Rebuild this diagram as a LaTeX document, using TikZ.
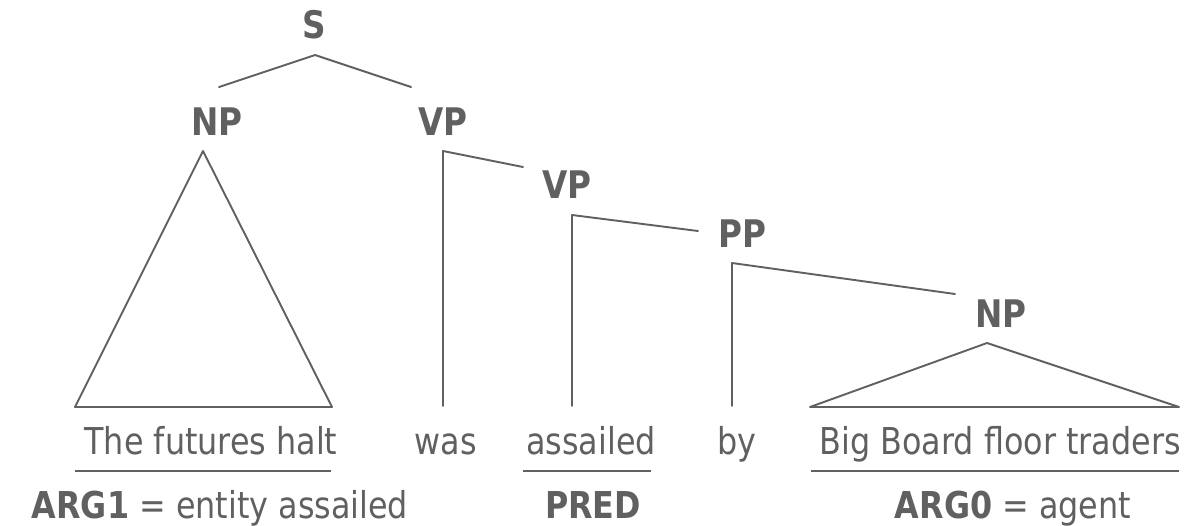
\documentclass[tikz,border=0pt]{standalone}
\usepackage{fontspec}
\setmainfont{DejaVu Sans}[FakeStretch=0.86]
\definecolor{ink}{RGB}{96,96,96}

\begin{document}
\begin{tikzpicture}[x=1pt, y=-1pt, line join=round, line cap=round, line width=1.9pt, draw=ink,
    cat/.style={font=\fontsize{38}{40}\selectfont\bfseries, text=ink, anchor=base, inner sep=0pt},
    word/.style={font=\fontsize{37}{40}\selectfont, text=ink, anchor=base, inner sep=0pt},
    rule/.style={line width=2.8pt, line cap=butt}]
    \useasboundingbox (0,0) rectangle (1188,525);
    % phrase labels
    \foreach \n/\lbl/\x/\y in {s/S/314/38, np/NP/217/135, vp/VP/443/135, vpb/VP/567/198, pp/PP/742/247, npb/NP/1001/327}
    \node[cat] (\n) at (\x,\y) {\lbl};
    % words of the sentence
    \foreach \n/\w/\x in {w1/The futures halt/211, w2/was/446, w3/assailed/591, w4/by/737, w5/Big Board floor traders/1000}
    \node[word] (\n) at (\x,454) {\w};
    % roles
    \node[word] (arg1) at (220,518) {\textbf{ARG1} = entity assailed};
    \node[word] (pred) at (593,518) {\textbf{PRED}};
    \node[word] (arg0) at (1013,518) {\textbf{ARG0} = agent};
    % branch points
    \path
    (0,406) coordinate (foot)
    (315,55) coordinate (S)
    (219,87) coordinate (S-l)
    (411,87) coordinate (S-r)
    (203,151) coordinate (NP)
    (443,151) coordinate (VP)
    (523,167) coordinate (VP-r)
    (572,215) coordinate (VPb)
    (698,231) coordinate (VPb-r)
    (732,263) coordinate (PP)
    (955,294) coordinate (PP-r)
    (987,343) coordinate (NPb);
    \foreach \x in {VP,VPb,PP}
    \path (\x |- foot) coordinate (\x');
    \draw (S-l)--(S)--(S-r);
    \draw (NP)--(75,407)--(332,407)--cycle;
    \draw (NPb)--(810,407)--(1179,407)--cycle;
    \draw (VP')--(VP)--(VP-r) (VPb')--(VPb)--(VPb-r) (PP')--(PP)--(PP-r);
    % underlines
    \draw[rule] (75,471)--(331,471) (523,471)--(651,471) (811,471)--(1179,471);
\end{tikzpicture}
\end{document}
